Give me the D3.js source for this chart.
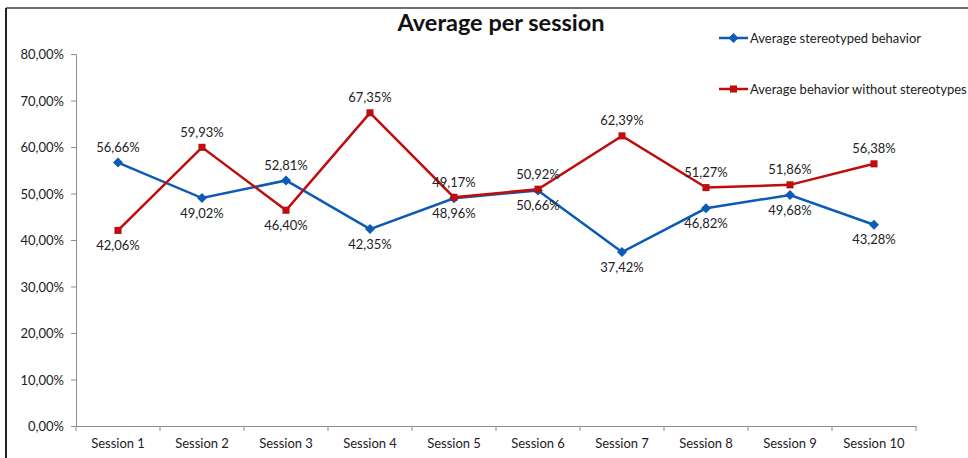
<!DOCTYPE html>
<html>
<head>
<meta charset="utf-8">
<script src="https://cdn.jsdelivr.net/npm/d3@7"></script>
<style>
  body { margin: 0; background: #fff; }
  svg text { font-family: Lato, "Open Sans", sans-serif; fill: #222; }
</style>
</head>
<body>
<div id="chart"></div>
<script>
var sessions = ["Session 1", "Session 2", "Session 3", "Session 4", "Session 5",
                "Session 6", "Session 7", "Session 8", "Session 9", "Session 10"];
var stereotyped = [56.66, 49.02, 52.81, 42.35, 48.96, 50.66, 37.42, 46.82, 49.68, 43.28];
var withoutStereo = [42.06, 59.93, 46.40, 67.35, 49.17, 50.92, 62.39, 51.27, 51.86, 56.38];
var yTicks = [0, 10, 20, 30, 40, 50, 60, 70, 80];

var W = 968, H = 458;
var margin = {top: 54, right: 52, bottom: 32, left: 76},
    width = 916 - margin.left,
    height = 426 - margin.top;

var svg = d3.select("#chart").append("svg")
    .attr("width", W)
    .attr("height", H);

// frame of the chart (only top and left edges visible)
svg.append("line").attr("x1", 6).attr("x2", W).attr("y1", 8).attr("y2", 8)
    .attr("stroke", "#6e6e6e").attr("stroke-width", 2);
svg.append("line").attr("x1", 6).attr("x2", 6).attr("y1", 8).attr("y2", H)
    .attr("stroke", "#222").attr("stroke-width", 2);

svg.append("text")
    .attr("x", 501).attr("y", 31)
    .attr("text-anchor", "middle")
    .style("font-size", "23.5px").style("font-weight", "bold")
    .style("fill", "#111")
    .text("Average per session");

var g = svg.append("g")
    .attr("transform", "translate(" + margin.left + "," + margin.top + ")");

var xScale = d3.scaleBand().domain(sessions).range([0, width]);
var yScale = d3.scaleLinear().domain([0, 80]).range([height, 0]);
var fmt = function(v) { return d3.format(".2f")(v).replace(".", ",") + "%"; };

// y axis
var yAxis = d3.axisLeft(yScale).tickValues(yTicks).tickSize(5).tickPadding(7)
    .tickFormat(fmt);
var ya = g.append("g").attr("class", "y axis").call(yAxis);
ya.select(".domain").attr("stroke", "#8c8c8c");
ya.selectAll(".tick line").attr("stroke", "#8c8c8c");
ya.selectAll(".tick text").style("font-size", "13px").attr("dy", "0.35em");

// x axis with ticks on band edges
var xAxis = d3.axisBottom(xScale).tickSize(0).tickPadding(13);
var xa = g.append("g").attr("class", "x axis")
    .attr("transform", "translate(0," + height + ")").call(xAxis);
xa.select(".domain").attr("stroke", "#8c8c8c");
xa.selectAll(".tick text").style("font-size", "13px");
var edges = sessions.map(function(s) { return xScale(s); }).concat([width]);
xa.selectAll("line.edge").data(edges).enter().append("line")
    .attr("class", "edge")
    .attr("x1", function(d) { return d; }).attr("x2", function(d) { return d; })
    .attr("y1", 0).attr("y2", 5)
    .attr("stroke", "#8c8c8c");

var cx = function(d, i) { return xScale(sessions[i]) + xScale.bandwidth() / 2; };

var series = [
  {name: "Average stereotyped behavior", values: stereotyped, other: withoutStereo,
   color: "#0c5bb6", shape: d3.symbolDiamond2, size: 64, ly: 38},
  {name: "Average behavior without stereotypes", values: withoutStereo, other: stereotyped,
   color: "#bf0d0d", shape: d3.symbolSquare2, size: 64, ly: 89}
];

var line = d3.line()
    .x(function(d, i) { return cx(d, i); })
    .y(function(d) { return yScale(d); });

series.forEach(function(s) {
  g.append("path").datum(s.values)
      .attr("fill", "none").attr("stroke", s.color)
      .attr("stroke-width", 2.5).attr("d", line);
});

series.forEach(function(s) {
  var sym = d3.symbol().type(s.shape).size(s.size);
  g.selectAll(null).data(s.values).enter().append("path")
      .attr("d", sym)
      .attr("fill", s.color)
      .attr("transform", function(d, i) {
        return "translate(" + cx(d, i) + "," + yScale(d) + ")";
      });
  // higher series gets label above, lower one below
  g.selectAll(null).data(s.values).enter().append("text")
      .attr("x", function(d, i) { return cx(d, i); })
      .attr("y", function(d, i) {
        return yScale(d) + (d >= s.other[i] ? -15 : 15);
      })
      .attr("dy", "0.35em")
      .attr("text-anchor", "middle")
      .style("font-size", "13px")
      .text(fmt);
});

// legend
var legend = svg.append("g").attr("class", "legend");
series.forEach(function(s) {
  var lg = legend.append("g").attr("transform", "translate(719," + s.ly + ")");
  lg.append("line").attr("x1", 0).attr("x2", 29)
      .attr("stroke", s.color).attr("stroke-width", 2.5);
  lg.append("path").attr("d", d3.symbol().type(s.shape).size(s.size)())
      .attr("transform", "translate(14.5,0)").attr("fill", s.color);
  lg.append("text").attr("x", 31).attr("dy", "0.35em")
      .style("font-size", "13px").text(s.name);
});
</script>
</body>
</html>
